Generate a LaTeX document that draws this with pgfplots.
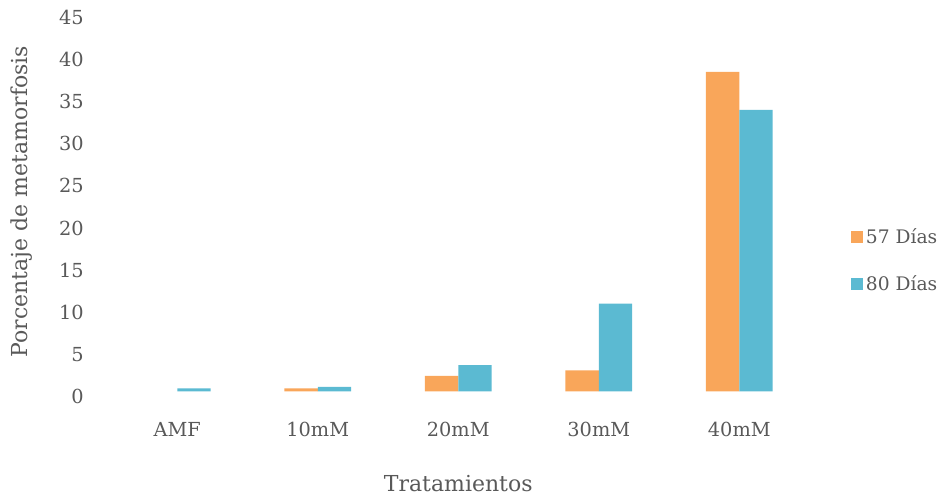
\documentclass[border=0pt]{standalone}
\usepackage{pgfplots}
\pgfplotsset{compat=1.18}
\usepackage{fontspec}
\setmainfont{DejaVu Serif}
\definecolor{txt}{HTML}{595959}
\definecolor{c57}{HTML}{F9A65A}
\definecolor{c80}{HTML}{5BBAD2}
\begin{document}
\begin{tikzpicture}
\useasboundingbox (-80.25pt,-80.8pt) rectangle (633.75pt,293.5pt);
\begin{axis}[
  at={(0,0)}, anchor=south west,
  scale only axis,
  width=526.9pt, height=284.5pt,
  ybar=0pt, bar width=25pt,
  xmin=-0.5, xmax=4.5, ymin=0, ymax=45,
  xtick={0,1,2,3,4}, xticklabels={AMF,10mM,20mM,30mM,40mM},
  ytick={0,5,...,45},
  axis line style={draw=none},
  tick style={draw=none},
  tick label style={font=\fontsize{14.5}{16}\selectfont, text=txt},
  /pgf/number format/assume math mode=true,
  yticklabel style={xshift=-14pt, yshift=-4pt},
  xticklabel style={yshift=-15.5pt},
  ylabel={Porcentaje de metamorfosis},
  xlabel={Tratamientos},
  label style={text=txt, font=\fontsize{16.5}{18}\selectfont},
  ylabel style={at={(axis description cs:0,0.5)}, anchor=center, yshift=63.75pt},
  xlabel style={at={(axis description cs:0.5,0)}, anchor=base, yshift=-75pt},
  legend style={at={(1.059,0.345)}, anchor=west, draw=none, fill=none, text=txt, row sep=19pt, inner sep=0pt, font=\fontsize{14}{16}\selectfont},
  legend cell align=left,
  legend image code/.code={\fill[#1] (0pt,-4.6pt) rectangle (9pt,4.6pt);},
]
\addplot[fill=c57, draw=none] coordinates {(1,0.36) (2,1.82) (3,2.5) (4,37.9)};
\addplot[fill=c80, draw=none] coordinates {(0,0.36) (1,0.52) (2,3.1) (3,10.4) (4,33.4)};
\legend{57 Días, 80 Días}
\end{axis}
\end{tikzpicture}
\end{document}
